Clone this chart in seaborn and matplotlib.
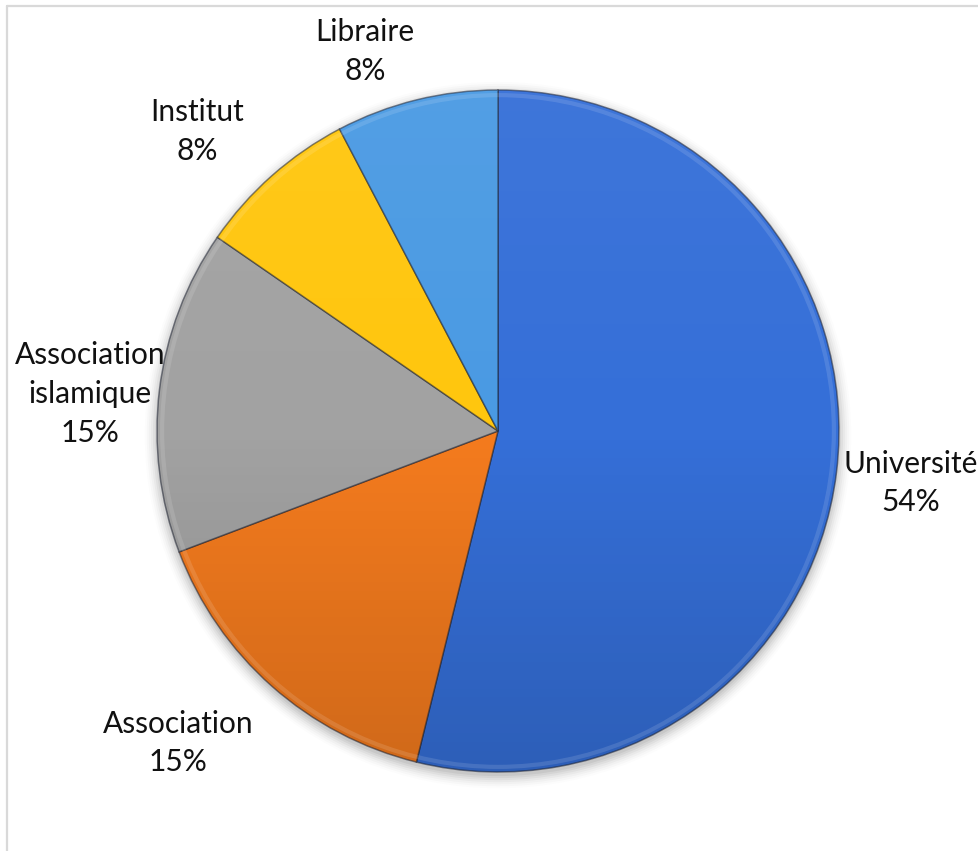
import numpy as np
import matplotlib
matplotlib.use("Agg")
import matplotlib.pyplot as plt
from matplotlib.patches import Circle
from matplotlib.lines import Line2D
import seaborn as sns

# Survey counts by type of structure
categories = ["Université", "Association", "Association\nislamique", "Institut", "Libraire"]
counts = [7, 2, 2, 1, 1]

# Slice colours (Office-style palette)
colors = ["#356FD8", "#F47B1E", "#A2A2A2", "#FFC60E", "#4A9AE3"]

# Label placement: (angle offset from slice middle in degrees, distance in radii)
label_layout = [(-0.26, 1.221), (-4.2, 1.311), (1.7, 1.201), (3.6, 1.246), (5.45, 1.178)]

sns.set_theme(style="white")
plt.rcParams["font.family"] = ["Lato", "DejaVu Sans"]

W, H, DPI = 979, 851, 100
fig = plt.figure(figsize=(W / DPI, H / DPI), dpi=DPI)
ax = fig.add_axes([0, 0, 1, 1])

# pixel geometry of the pie
cx, cy, R = 498.0, 431.0, 341.0
ax.set_xlim(-cx / R, (W - cx) / R)
ax.set_ylim(-(H - cy) / R, cy / R)
ax.axis("off")

# soft drop shadow under the pie
for k, a in enumerate(np.linspace(0.05, 0.012, 7)):
    ax.add_patch(Circle((0, -0.012), 1.0 + 0.006 * k, color="black", alpha=a,
                        lw=0, zorder=0))

wedges, _ = ax.pie(counts, colors=colors, startangle=90, counterclock=False,
                   radius=1.0, center=(0, 0),
                   wedgeprops=dict(edgecolor=(0.12, 0.14, 0.2, 0.55), linewidth=1.1),
                   frame=False)
for w in wedges:
    w.set_zorder(2)

# vertical shading over the pie (slightly lighter top, darker bottom)
n = 256
t = np.linspace(0, 1, n)[:, None]
shade = np.zeros((n, 2, 4))
shade[..., :3] = np.where(t[..., None] < 0.5, 1.0, 0.0)
shade[..., 3] = np.where(t < 0.5, 0.05 * (1 - 2 * t), 0.15 * (2 * t - 1))
im = ax.imshow(shade, extent=[-1, 1, -1, 1], origin="upper", aspect="auto",
               interpolation="bilinear", zorder=3)
clip = Circle((0, 0), 1.0, transform=ax.transData)
im.set_clip_path(clip)

# bevel rim
ax.add_patch(Circle((0, 0), 0.985, fill=False, lw=3, ec=(1, 1, 1, 0.12), zorder=4))
ax.set_xlim(-cx / R, (W - cx) / R)
ax.set_ylim(-(H - cy) / R, cy / R)

total = sum(counts)
for w, name, v, (off, dist) in zip(wedges, categories, counts, label_layout):
    mid = 0.5 * (w.theta1 + w.theta2) + off
    x = dist * np.cos(np.radians(mid))
    y = dist * np.sin(np.radians(mid))
    ax.text(x, y, f"{name}\n{round(100 * v / total)}%", ha="center", va="center",
            fontsize=21.5, color="#111111", linespacing=1.47, zorder=5)

# chart-area frame
fig.add_artist(Line2D([7 / W, 1], [1 - 6 / H, 1 - 6 / H], color="#d9d9d9", lw=1.6,
                      transform=fig.transFigure))
fig.add_artist(Line2D([7 / W, 7 / W], [0, 1 - 6 / H], color="#d9d9d9", lw=1.6,
                      transform=fig.transFigure))

fig.savefig("out.png", dpi=DPI, facecolor="white")
